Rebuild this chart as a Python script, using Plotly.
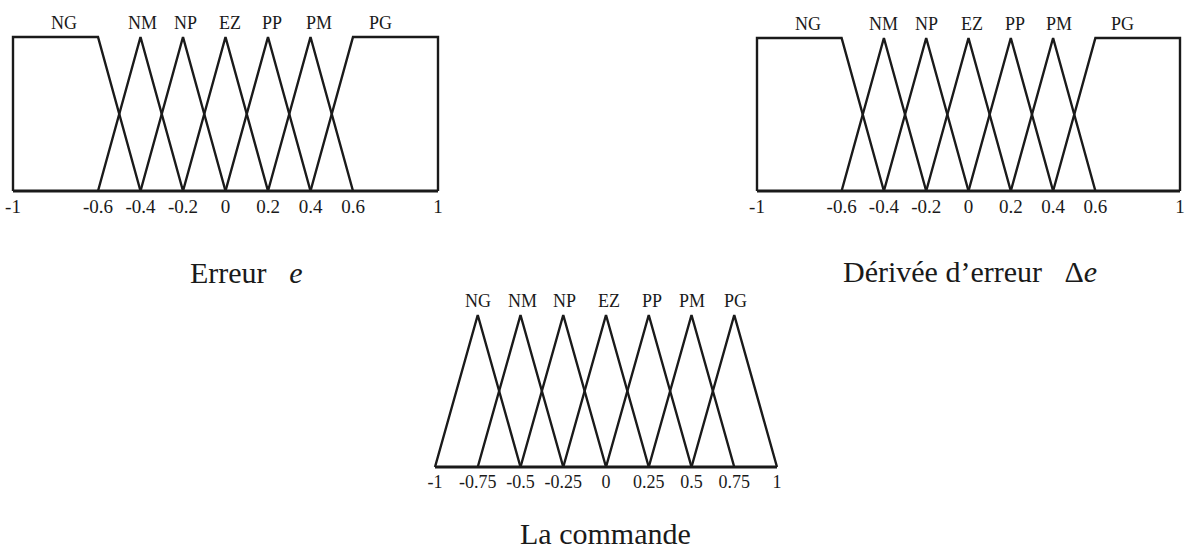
import plotly.graph_objects as go

W, H = 1187, 552
INK = "#1a1a1a"
SERIF = "Liberation Serif, Times New Roman, serif"

sets = ["NG", "NM", "NP", "EZ", "PP", "PM", "PG"]

# Erreur e : trapezoid breakpoints (a, b, c, d) for each linguistic set
err_a = [-1, -0.6, -0.4, -0.2, 0, 0.2, 0.4]
err_b = [-1, -0.4, -0.2, 0, 0.2, 0.4, 0.6]
err_c = [-0.6, -0.4, -0.2, 0, 0.2, 0.4, 1]
err_d = [-0.4, -0.2, 0, 0.2, 0.4, 0.6, 1]
err_ticks = [-1, -0.6, -0.4, -0.2, 0, 0.2, 0.4, 0.6, 1]
err_ticktext = ["-1", "-0.6", "-0.4", "-0.2", "0", "0.2", "0.4", "0.6", "1"]
err_label_x = [-0.76, -0.39, -0.19, 0.02, 0.22, 0.44, 0.73]

# Dérivée d'erreur Δe
derr_a = [-1, -0.6, -0.4, -0.2, 0, 0.2, 0.4]
derr_b = [-1, -0.4, -0.2, 0, 0.2, 0.4, 0.6]
derr_c = [-0.6, -0.4, -0.2, 0, 0.2, 0.4, 1]
derr_d = [-0.4, -0.2, 0, 0.2, 0.4, 0.6, 1]
derr_ticks = [-1, -0.6, -0.4, -0.2, 0, 0.2, 0.4, 0.6, 1]
derr_ticktext = ["-1", "-0.6", "-0.4", "-0.2", "0", "0.2", "0.4", "0.6", "1"]
derr_label_x = [-0.76, -0.4, -0.2, 0.015, 0.22, 0.43, 0.73]

# La commande : triangular sets
cmd_a = [-1, -0.75, -0.5, -0.25, 0, 0.25, 0.5]
cmd_b = [-0.75, -0.5, -0.25, 0, 0.25, 0.5, 0.75]
cmd_c = [-0.75, -0.5, -0.25, 0, 0.25, 0.5, 0.75]
cmd_d = [-0.5, -0.25, 0, 0.25, 0.5, 0.75, 1]
cmd_ticks = [-1, -0.75, -0.5, -0.25, 0, 0.25, 0.5, 0.75, 1]
cmd_ticktext = ["-1", "-0.75", "-0.5", "-0.25", "0", "0.25", "0.5", "0.75", "1"]
cmd_label_x = [-0.75, -0.49, -0.24, 0.02, 0.27, 0.5, 0.755]

panels = [
    dict(a=err_a, b=err_b, c=err_c, d=err_d, ticks=err_ticks, ticktext=err_ticktext,
         label_x=err_label_x, px=(13, 438), py=(191, 37),
         title="Erreur\u00a0\u00a0\u00a0<i>e</i>", title_xy=(246, 272), tick_size=19),
    dict(a=derr_a, b=derr_b, c=derr_c, d=derr_d, ticks=derr_ticks, ticktext=derr_ticktext,
         label_x=derr_label_x, px=(757, 1180), py=(191, 38),
         title="Dérivée d\u2019erreur\u00a0\u00a0\u00a0\u0394<i>e</i>", title_xy=(970, 271), tick_size=19),
    dict(a=cmd_a, b=cmd_b, c=cmd_c, d=cmd_d, ticks=cmd_ticks, ticktext=cmd_ticktext,
         label_x=cmd_label_x, px=(435, 777), py=(467, 315),
         title="La commande", title_xy=(606, 533), tick_size=18),
]

XPAD = 0.04      # horizontal room around [-1, 1], in axis units
PAD_BOTTOM = 2   # px below the baseline
PAD_TOP = 12     # px above membership 1

fig = go.Figure()
annotations = []

for i, p in enumerate(panels, start=1):
    xa = "x" if i == 1 else f"x{i}"
    ya = "y" if i == 1 else f"y{i}"

    # membership functions
    for j, name in enumerate(sets):
        fig.add_trace(go.Scatter(
            x=[p["a"][j], p["b"][j], p["c"][j], p["d"][j]],
            y=[0, 1, 1, 0],
            mode="lines", name=name,
            line=dict(color=INK, width=2.4),
            xaxis=xa, yaxis=ya, showlegend=False, hoverinfo="skip",
        ))
        annotations.append(dict(
            x=p["label_x"][j], y=1, xref=xa, yref=ya,
            text=name, showarrow=False, yanchor="bottom", yshift=2,
            font=dict(family=SERIF, size=18, color=INK),
        ))

    # universe of discourse baseline
    fig.add_trace(go.Scatter(
        x=[p["ticks"][0], p["ticks"][-1]], y=[0, 0],
        mode="lines", line=dict(color=INK, width=3.2),
        xaxis=xa, yaxis=ya, showlegend=False, hoverinfo="skip",
    ))

    # subplot placement (pixel anchors of -1 and 1, clamped to the page)
    x0, x1 = p["px"]
    ppx = (x1 - x0) / 2
    left = max(0.0, x0 - XPAD * ppx)
    right = min(float(W), x1 + XPAD * ppx)
    xr = [-1 - (x0 - left) / ppx, 1 + (right - x1) / ppx]
    y0, y1 = p["py"]
    ppy = y0 - y1
    top, bottom = y1 - PAD_TOP, y0 + PAD_BOTTOM
    yr = [-PAD_BOTTOM / ppy, 1 + PAD_TOP / ppy]

    axis_common = dict(showgrid=False, zeroline=False, showline=False, fixedrange=True)
    fig.update_layout({
        ("xaxis" if i == 1 else f"xaxis{i}"): dict(
            axis_common, domain=[left / W, right / W], range=xr,
            anchor=ya, tickmode="array", tickvals=p["ticks"], ticktext=p["ticktext"],
            ticks="", ticklabelstandoff=0,
            tickfont=dict(family=SERIF, size=p["tick_size"], color=INK),
        ),
        ("yaxis" if i == 1 else f"yaxis{i}"): dict(
            axis_common, domain=[(H - bottom) / H, (H - top) / H], range=yr,
            anchor=xa, visible=False,
        ),
    })

    tx, ty = p["title_xy"]
    annotations.append(dict(
        x=tx / W, y=1 - ty / H, xref="paper", yref="paper",
        text=p["title"], showarrow=False, xanchor="center", yanchor="middle",
        font=dict(family=SERIF, size=30, color=INK),
    ))

fig.update_layout(
    width=W, height=H,
    margin=dict(l=0, r=0, t=0, b=0),
    paper_bgcolor="white", plot_bgcolor="white",
    annotations=annotations,
)

fig.write_html("out.html")
